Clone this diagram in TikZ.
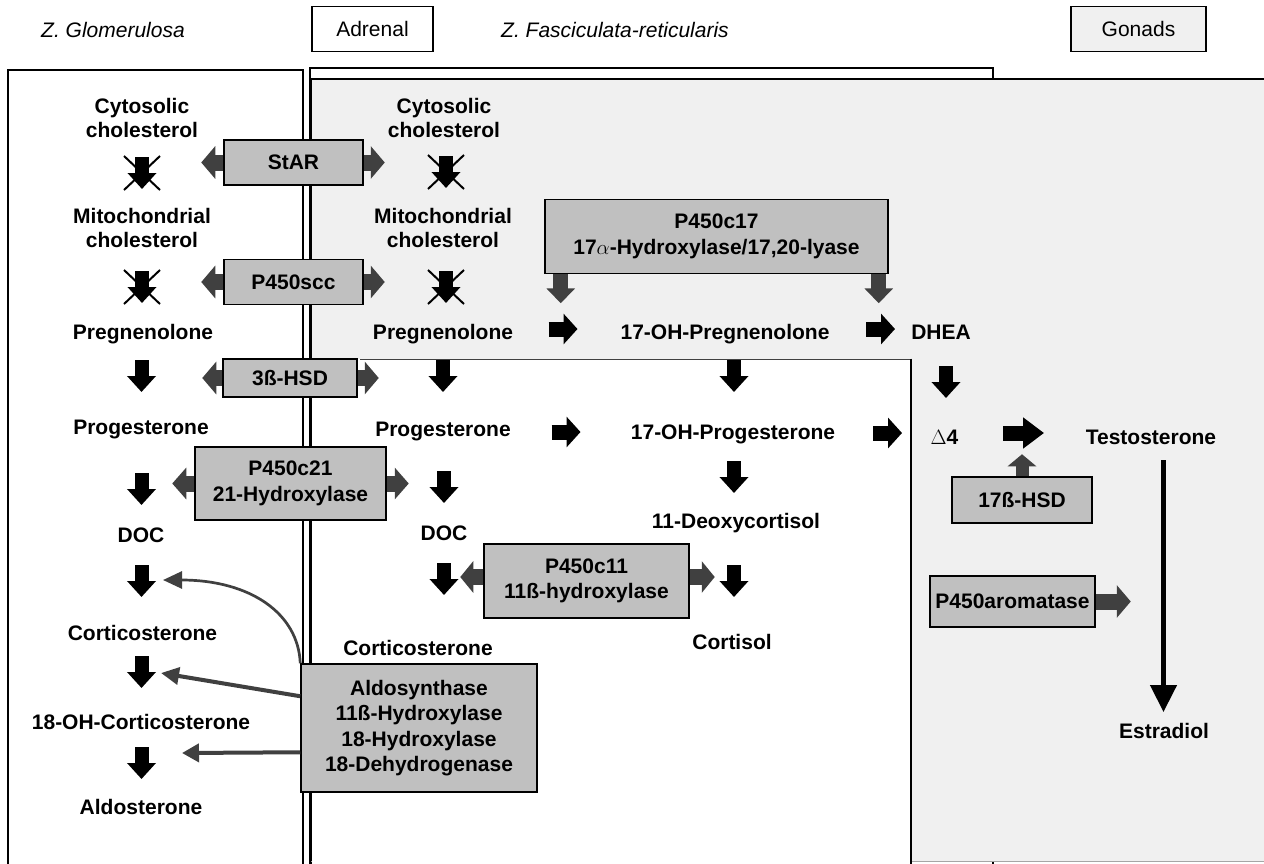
\documentclass[tikz,border=0pt]{standalone}
\usepackage{fontspec}
\setmainfont{Liberation Sans}
\usetikzlibrary{arrows.meta,calc}
\definecolor{boxgray}{HTML}{C0C0C0}
\definecolor{panelgray}{HTML}{F0F0F0}
\definecolor{arrowgray}{HTML}{404040}

\tikzset{
  pics/dnarrow/.style={code={
    \draw[line width=14pt,-{Triangle[width=28pt,length=16pt]}] (0,-16) -- (0,16);}},
  pics/xdnarrow/.style={code={
    \draw[line width=14pt,-{Triangle[width=28pt,length=16pt]}] (0,-16) -- (0,16);
    \draw[line width=2pt] (-18,-17) -- (18,17) (18,-17) -- (-18,17);}},
  pics/rtarrow/.style={code={
    \draw[line width=15pt,-{Triangle[width=30pt,length=14pt]}] (-14.5,0) -- (14.5,0);}},
}

\begin{document}
\begin{tikzpicture}[x=1pt,y=-1pt,
  lbl/.style={font=\fontsize{21}{25}\selectfont\bfseries, inner sep=0pt, text height=15pt, text depth=0pt},
  lbltwo/.style={font=\fontsize{21}{24}\selectfont\bfseries, inner sep=0pt, align=center},
  hdr/.style={font=\fontsize{21}{25}\selectfont\itshape, inner sep=0pt},
  tag/.style={draw=black, line width=1.2pt, font=\fontsize{21}{25}\selectfont, inner sep=0pt},
  enz/.style={draw=black, line width=1.5pt, fill=boxgray,
    font=\fontsize{21}{25.5}\selectfont\bfseries, align=center, inner sep=0pt},
  gar/.style={arrowgray, line width=16pt, -{Triangle[width=32pt,length=14pt]}},
  gardn/.style={arrowgray, line width=15pt, -{Triangle[width=28pt,length=15pt]}},
  thinar/.style={arrowgray, line width=#1},
]
\useasboundingbox (0,0) rectangle (1264,863);

% ---------- compartments ----------
% zona glomerulosa
\draw[line width=1.2pt, fill=white] (8,880) |- (303,70) -- (303,880);
% zona fasciculata-reticularis
\draw[line width=1.2pt, fill=white] (310,880) |- (993,68) -- (993,880);
% gonads panel
\fill[panelgray] (311,79) rectangle (1280,861);
\draw[line width=1.2pt] (311,880) |- (1280,79);
\draw[gray!70, line width=0.8pt] (311,861) -- (1280,861);
% adrenal pathway area inside the panel
\fill[white] (312,359) rectangle (911,880);
\draw[black!75, line width=0.8pt] (360,359) -- (911,359);
\draw[line width=1.5pt] (911,358.5) -- (911,880);

% ---------- headers ----------
\node[hdr] (zg) at (113,30) {Z. Glomerulosa};
\node[tag, fill=white, minimum width=121pt, minimum height=45pt] (adr) at (372.5,29) {Adrenal};
\node[hdr] (zf) at (615,30) {Z. Fasciculata-reticularis};
\node[tag, fill=panelgray, minimum width=135pt, minimum height=45pt] (gon) at (1138.5,29) {Gonads};

% ---------- zona glomerulosa column ----------
\node[lbltwo] (gcyt) at (142,117.5) {Cytosolic\\cholesterol};
\pic at (142,173) {xdnarrow};
\node[lbltwo] (gmit) at (142,227.5) {Mitochondrial\\cholesterol};
\pic at (142,287) {xdnarrow};
\node[lbl] (gpreg) at (143,332) {Pregnenolone};
\pic at (141.5,376) {dnarrow};
\node[lbl] (gprog) at (141,427) {Progesterone};
\pic at (141.5,489) {dnarrow};
\node[lbl] (gdoc) at (141,535) {DOC};
\pic at (141.5,581) {dnarrow};
\node[lbl] (gcort) at (142.5,633) {Corticosterone};
\pic at (141.5,672) {dnarrow};
\node[lbl] (g18oh) at (141,722) {18-OH-Corticosterone};
\pic at (141.5,763) {dnarrow};
\node[lbl] (gald) at (141,807) {Aldosterone};

% ---------- zona fasciculata-reticularis column ----------
\node[lbltwo] (fcyt) at (444,117.5) {Cytosolic\\cholesterol};
\pic at (446,172) {xdnarrow};
\node[lbltwo] (fmit) at (443,227.5) {Mitochondrial\\cholesterol};
\pic at (446,287) {xdnarrow};
\node[lbl] (fpreg) at (443,332) {Pregnenolone};
\pic at (443,376) {dnarrow};
\node[lbl] (fprog) at (443,429) {Progesterone};
\pic at (444,487) {dnarrow};
\node[lbl] (fdoc) at (444,533) {DOC};
\pic at (444,579) {dnarrow};
\node[lbl] (fcort) at (418,648) {Corticosterone};

% 17-hydroxylated branch
\pic at (563,329) {rtarrow};
\node[lbl] (ohpreg) at (725,332) {17-OH-Pregnenolone};
\pic at (880.5,329) {rtarrow};
\node[lbl] (dhea) at (941,332) {DHEA};
\pic at (734,376) {dnarrow};
\pic at (566,432) {rtarrow};
\node[lbl] (ohprog) at (733,432) {17-OH-Progesterone};
\pic at (887.5,433) {rtarrow};
\pic at (734,477) {dnarrow};
\node[lbl] (deoxy) at (736,521) {11-Deoxycortisol};
\pic at (734,581) {dnarrow};
\node[lbl] (cortisol) at (732,642) {Cortisol};

% ---------- gonadal steps ----------
\pic at (946,382) {dnarrow};
\node[lbl] (delta) at (944.5,437) {$\Delta$4};
\draw[line width=15pt,-{Triangle[width=30pt,length=21pt]}] (1003,433) -- (1044,433);
\node[lbl] (testo) at (1151,437) {Testosterone};
\node[lbl] (estra) at (1164,731) {Estradiol};
\coordinate (estip) at (1163.5,712);
\draw[line width=4.5pt,-{Triangle[width=26pt,length=27pt]}] (1163.5,460) -- (estip);

% ---------- enzymes ----------
\node[enz, minimum width=139pt, minimum height=45pt] (star) at (293.5,162.5) {StAR};
\node[enz, minimum width=139pt, minimum height=45pt] (scc) at (293.5,282) {P450scc};
\node[enz, minimum width=134pt, minimum height=38pt] (hsd3) at (290,378) {3ß-HSD};
\node[enz, minimum width=191pt, minimum height=73pt] (c21) at (290.5,483.5) {P450c21\\21-Hydroxylase};
\node[enz, minimum width=205pt, minimum height=74pt] (c11) at (586.5,581) {P450c11\\11ß-hydroxylase};
\node[enz, minimum width=343pt, minimum height=74pt] (c17) at (716.5,236.5) {P450c17\\17$\alpha$-Hydroxylase/17,20-lyase};
\node[enz, minimum width=236pt, minimum height=128pt] (ald) at (419,728) {Aldosynthase\\11ß-Hydroxylase\\18-Hydroxylase\\18-Dehydrogenase};
\node[enz, minimum width=140pt, minimum height=46pt] (hsd17) at (1022,500) {17ß-HSD};
\node[enz, minimum width=165pt, minimum height=51pt] (arom) at (1012.5,601.5) {P450aromatase};

% enzyme actions
\draw[gar] (star.west) -- ++(-22,0);
\draw[gar] (star.east) -- ++(21,0);
\draw[gar] (scc.west) -- ++(-22,0);
\draw[gar] (scc.east) -- ++(21,0);
\draw[gar] (hsd3.west) -- ++(-20,0);
\draw[gar] (hsd3.east) -- ++(21,0);
\draw[gar, -{Triangle[width=31pt,length=14pt]}] (c21.west) -- ++(-22,0);
\draw[gar, -{Triangle[width=31pt,length=14pt]}] (c21.east) -- ++(22,0);
\draw[gar, -{Triangle[width=31pt,length=13pt]}] ($(c11.west)+(0,-4)$) -- ++(-23,0);
\draw[gar, -{Triangle[width=31pt,length=13pt]}] ($(c11.east)+(0,-4)$) -- ++(25,0);
\draw[gardn] ($(c17.south west)+(16.5,0)$) -- ++(0,29);
\draw[gardn] ($(c17.south east)+(-10,0)$) -- ++(0,29);
\draw[arrowgray, line width=13pt, -{Triangle[width=28pt,length=12pt]}] (hsd17.north) -- ++(0,-22);
\draw[gar] (arom.east) -- ++(35,0);

% aldosterone synthase steps
\coordinate (altipa) at (163,580);
\coordinate (altipb) at (161,673);
\coordinate (altipc) at (182,753);
\draw[arrowgray, line width=2.7pt, -{Triangle[width=17pt,length=19pt]}]
  (ald.north west) .. controls ++(-2,-50) and (250,580) .. (altipa);
\draw[arrowgray, line width=4pt, -{Triangle[width=17pt,length=18pt]}]
  ($(ald.north west)+(0,33)$) -- (altipb);
\draw[arrowgray, line width=4pt, -{Triangle[width=18pt,length=17pt]}]
  ($(ald.north west)+(0,89)$) -- (altipc);
\end{tikzpicture}
\end{document}
